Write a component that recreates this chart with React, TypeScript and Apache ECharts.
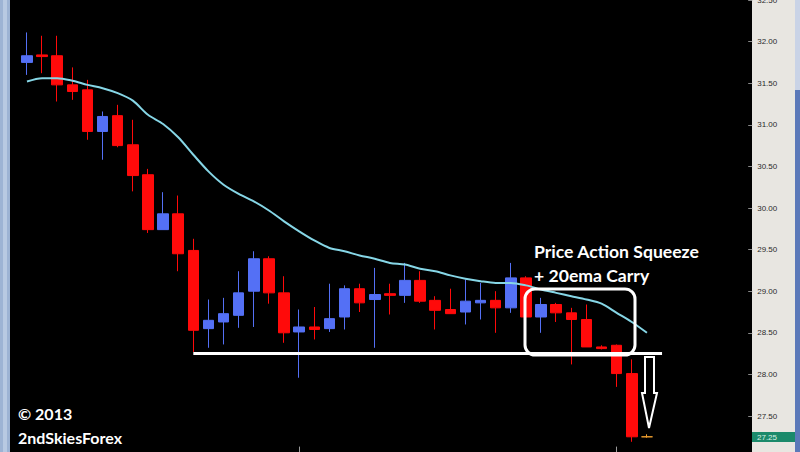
import React, { useEffect, useRef } from 'react';
import * as echarts from 'echarts';

// 48 slots on the time axis (42 bars drawn, right side empty)
const categories: string[] = Array.from({ length: 48 }, (_, i) => String(i + 1));

const opens = [31.75, 31.84, 31.83, 31.48, 31.42, 30.92, 31.11, 30.76, 30.40, 29.74, 29.93, 29.49, 28.55, 28.63, 28.71, 29.00, 29.39, 28.98, 28.51, 28.57, 28.55, 28.69, 29.03, 28.90, 28.97, 28.95, 29.13, 28.89, 28.78, 28.75, 28.86, 28.89, 28.80, 29.16, 28.69, 28.84, 28.74, 28.66, 28.33, 28.35, 28.01, 27.25];
const closes = [31.83, 31.82, 31.48, 31.40, 30.92, 31.10, 30.75, 30.39, 29.74, 29.93, 29.45, 28.53, 28.65, 28.73, 28.98, 29.39, 28.98, 28.50, 28.57, 28.54, 28.67, 29.03, 28.86, 28.96, 28.95, 29.13, 28.88, 28.77, 28.73, 28.88, 28.89, 28.80, 29.16, 28.69, 28.84, 28.74, 28.66, 28.33, 28.31, 28.01, 27.25, 27.25];
const lows = [31.60, 31.62, 31.28, 31.30, 30.82, 30.58, 30.73, 30.20, 29.70, 29.74, 29.24, 28.27, 28.32, 28.36, 28.56, 28.57, 28.85, 28.38, 27.96, 28.42, 28.51, 28.54, 28.75, 28.32, 28.72, 28.86, 28.86, 28.54, 28.73, 28.60, 28.66, 28.50, 28.74, 28.69, 28.50, 28.63, 28.12, 28.33, 28.30, 27.85, 27.19, 27.24];
const highs = [32.11, 32.07, 32.07, 31.69, 31.54, 31.16, 31.24, 31.06, 30.47, 30.19, 30.15, 29.63, 28.90, 28.92, 29.24, 29.48, 29.42, 29.18, 28.78, 28.81, 29.09, 29.07, 29.09, 29.28, 29.09, 29.34, 29.24, 28.94, 29.03, 29.14, 29.10, 29.00, 29.34, 29.18, 28.92, 28.86, 28.80, 28.84, 28.35, 28.36, 28.18, 27.28];
const ema20 = [31.52, 31.56, 31.56, 31.53, 31.48, 31.44, 31.38, 31.29, 31.12, 31.01, 30.85, 30.64, 30.44, 30.28, 30.17, 30.08, 29.97, 29.84, 29.72, 29.61, 29.52, 29.48, 29.43, 29.39, 29.34, 29.32, 29.27, 29.24, 29.19, 29.15, 29.12, 29.10, 29.10, 29.07, 29.02, 28.98, 28.94, 28.90, 28.85, 28.74, 28.63, 28.50];

const supportLevel = 28.26;
const supportFrom = 11;
const supportTo = 42.3;
const currentPrice = 27.25;
const yMin = 27;
const yMax = 32.5;
const yInterval = 0.5;

const BLUE = '#5470f5';
const RED = '#ff0a0a';
const ORANGE = '#f0a030';

export default function App() {
  const ref = useRef<HTMLDivElement>(null);
  useEffect(() => {
    if (!ref.current) return;
    const chart = echarts.init(ref.current, null, { renderer: 'svg' });
    const last = opens.length - 1;
    const candleData = opens.map((o, i) => {
      const v = [o, closes[i], lows[i], highs[i]];
      if (i === last) {
        return {
          value: v,
          itemStyle: { color: ORANGE, color0: ORANGE, borderColor: ORANGE, borderColor0: ORANGE, borderColorDoji: ORANGE },
        };
      }
      return { value: v };
    });
    const font = 'Lato, Carlito, "Open Sans", sans-serif';
    chart.setOption({
      animation: false,
      backgroundColor: '#000000',
      grid: { left: 19.44, top: 0, width: 725.76, height: 457.6, containLabel: false, outerBoundsMode: 'none' },
      xAxis: {
        type: 'category',
        data: categories,
        boundaryGap: true,
        axisLine: { show: false },
        axisLabel: { show: false },
        axisTick: {
          show: true,
          alignWithLabel: true,
          inside: true,
          length: 11,
          interval: (idx: number) => idx === 18 || idx === 39,
          lineStyle: { color: '#9a9a9a', width: 1 },
        },
        splitLine: { show: false },
      },
      yAxis: {
        type: 'value',
        position: 'right',
        offset: 7,
        min: yMin,
        max: yMax,
        interval: yInterval,
        axisLine: { show: false },
        axisTick: { show: true, inside: true, length: 4, lineStyle: { color: '#8a8a8a' } },
        axisLabel: {
          show: true,
          margin: 5,
          color: '#2a2a2a',
          fontSize: 8,
          showMinLabel: false,
          fontFamily: '"Liberation Sans", Arial, sans-serif',
          formatter: (v: number) => v.toFixed(2),
        },
        splitLine: { show: false },
      },
      series: [
        {
          type: 'candlestick',
          data: candleData,
          barWidth: 11,
          itemStyle: {
            color: BLUE,
            color0: RED,
            borderColor: BLUE,
            borderColor0: RED,
            borderWidth: 1,
          },
          markLine: {
            silent: true,
            symbol: ['none', 'none'],
            label: { show: false },
            lineStyle: { color: '#ffffff', width: 3, type: 'solid' },
            data: [[{ coord: [supportFrom, supportLevel] }, { coord: [supportTo, supportLevel] }]],
          },
          z: 3,
        },
        {
          type: 'line',
          data: ema20,
          showSymbol: false,
          smooth: 0.3,
          lineStyle: { color: '#86d6e6', width: 2 },
          z: 4,
        },
      ],
      graphic: [
        { type: 'rect', z: -1, shape: { x: 752, y: 0, width: 43, height: 458 }, style: { fill: '#e8e6e1' } },
        { type: 'rect', z: -1, shape: { x: 795, y: 0, width: 5, height: 458 }, style: { fill: '#5b79b9' } },
        { type: 'rect', z: -1, shape: { x: 795, y: 0, width: 5, height: 90 }, style: { fill: '#c9d3e6' } },
        { type: 'rect', z: -1, shape: { x: 0, y: 0, width: 10, height: 458 }, style: { fill: '#9db3d4' } },
        { type: 'rect', z: -1, shape: { x: 3, y: 0, width: 4, height: 458 }, style: { fill: '#b8c9e2' } },
        { type: 'rect', z: 5, shape: { x: 752, y: 432, width: 43, height: 10 }, style: { fill: '#1b8a6b' } },
        {
          type: 'text', z: 6, x: 757, y: 437,
          style: { text: currentPrice.toFixed(2), fill: '#d8f2e6', font: '8px "Liberation Sans", Arial, sans-serif', verticalAlign: 'middle' },
        },
        {
          type: 'rect', z: 5,
          shape: { x: 525, y: 289, width: 110, height: 66, r: 10 },
          style: { fill: 'none', stroke: '#ffffff', lineWidth: 3 },
        },
        {
          type: 'polygon', z: 5,
          shape: { points: [[645, 357], [654, 357], [654, 393], [657, 393], [649, 428], [642, 393], [645, 393]] },
          style: { fill: 'none', stroke: '#ffffff', lineWidth: 2 },
        },
        {
          type: 'text', z: 6, x: 534, y: 251,
          style: { text: 'Price Action Squeeze', fill: '#ffffff', font: `bold 17.6px ${font}`, verticalAlign: 'middle' },
        },
        {
          type: 'text', z: 6, x: 534, y: 275,
          style: { text: '+ 20ema Carry', fill: '#ffffff', font: `bold 17.6px ${font}`, verticalAlign: 'middle' },
        },
        {
          type: 'text', z: 6, x: 18, y: 413,
          style: { text: '© 2013', fill: '#ffffff', font: `bold 16px ${font}`, verticalAlign: 'middle' },
        },
        {
          type: 'text', z: 6, x: 18, y: 437,
          style: { text: '2ndSkiesForex', fill: '#ffffff', font: `bold 16px ${font}`, verticalAlign: 'middle' },
        },
      ],
    });
    return () => chart.dispose();
  }, []);
  return (
    <div style={{ position: 'absolute', left: 0, top: 0, width: 800, height: 452, overflow: 'hidden' }}>
      <div ref={ref} style={{ width: 800, height: 458 }} />
    </div>
  );
}
